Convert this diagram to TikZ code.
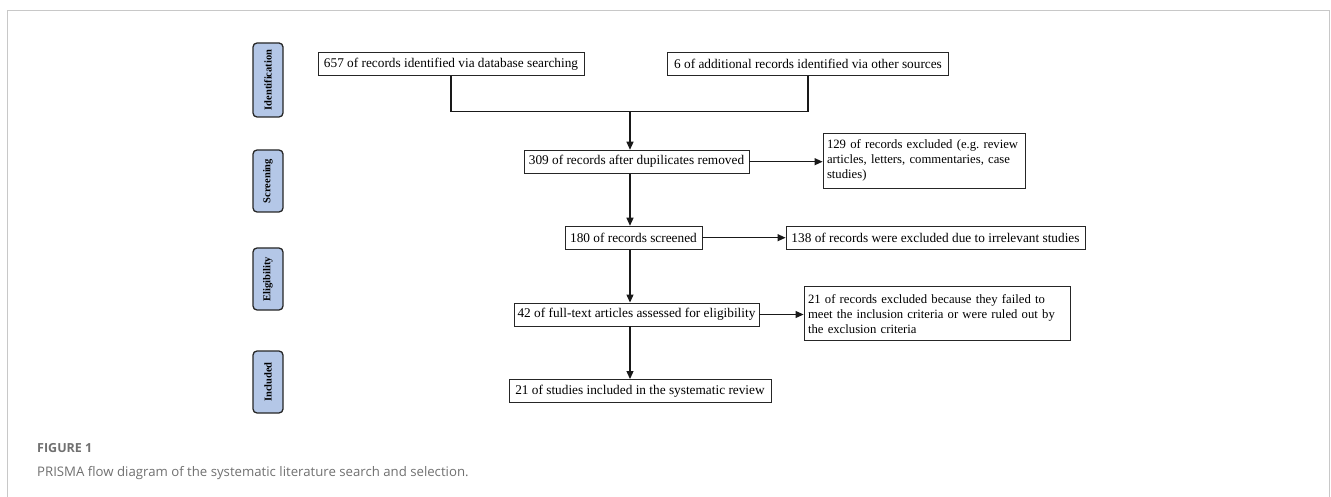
\documentclass[tikz,border=0pt]{standalone}
\usepackage{fontspec}
\setmainfont{Liberation Serif}
\newfontfamily\capfont{Open Sans}
\usetikzlibrary{arrows.meta}
\definecolor{stagefill}{HTML}{B4C7E7}
\definecolor{framegray}{HTML}{C8C8C8}
\definecolor{capgray}{HTML}{707070}
\frenchspacing
\tikzset{
  box/.style={draw=black!85, line width=0.9pt, fill=white, inner sep=3pt, minimum height=23pt,
    font=\fontsize{13.3}{15}\selectfont, anchor=center},
  multibox/.style={draw=black!85, line width=0.9pt, fill=white, align=left, inner sep=4pt,
    font=\fontsize{12.7}{15}\selectfont, anchor=center},
  stagebox/.style={draw=black!85, line width=1.3pt, fill=stagefill, rounded corners=4pt,
    minimum height=30pt, inner sep=0pt, font=\fontsize{10.5}{12}\selectfont\bfseries, rotate=90},
  link/.style={line width=1.1pt, draw=black!90},
  arr/.style={link, -{Triangle[length=8pt,width=7pt]}}
}
\begin{document}
\begin{tikzpicture}[x=1pt,y=-1pt]
\useasboundingbox (0,0) rectangle (1331,497);
% frame
\draw[framegray, line width=1pt] (7.5,497) -- (7.5,10.5) -- (1329.5,10.5) -- (1329.5,497);
% stage labels
\node[stagebox, minimum width=74pt] (s1) at (268,80) {Identification};
\node[stagebox, minimum width=62pt] (s2) at (268,181) {Screening};
\node[stagebox, minimum width=62pt] (s3) at (268,279) {Eligibility};
\node[stagebox, minimum width=62pt] (s4) at (268,382) {Included};
% boxes
\node[box, minimum width=266pt] (A) at (451,64.2) {657 of records identified via database searching};
\node[box, minimum width=281pt] (B) at (808,64.2) {6 of additional records identified via other sources};
\node[box, minimum width=225pt] (C) at (636.5,161.7) {309 of records after dupilicates removed};
\node[multibox, text width=194pt, minimum height=55pt] (D) at (924,160.5) {129 of records excluded (e.g. review\\articles, letters, commentaries, case\\studies)};
\node[box, minimum width=137pt] (E) at (633.5,237.7) {180 of records screened};
\node[box, minimum width=299pt] (F) at (935.5,237.7) {138 of records were excluded due to irrelevant studies};
\node[box, minimum width=245pt] (G) at (636.5,314.5) {42 of full-text articles assessed for eligibility};
\node[multibox, text width=258pt, minimum height=54pt] (H) at (937,313.7) {21 of records excluded because they failed to\\meet the inclusion criteria or were ruled out by\\the exclusion criteria};
\node[box, minimum width=262pt] (I) at (640,391) {21 of studies included in the systematic review};
% connectors
\coordinate (junc) at (630,111.3);
\draw[link] (A.south) |- (junc) -| (B.south);
\draw[arr] (junc) -- (junc |- C.north);
\draw[arr] (junc |- C.south) -- (junc |- E.north);
\draw[arr] (junc |- E.south) -- (junc |- G.north);
\draw[arr] (junc |- G.south) -- (junc |- I.north);
\draw[arr] (C.east) -- (C.east -| D.west);
\draw[arr] (E.east) -- (E.east -| F.west);
\draw[arr] (G.east) -- (G.east -| H.west);
% caption
\node[anchor=base west, inner sep=0pt, text=capgray, font=\capfont\bfseries\fontsize{12.5}{14}\selectfont] (cap1) at (37,452) {FIGURE 1};
\node[anchor=base west, inner sep=0pt, text=capgray, font=\capfont\fontsize{13.2}{16}\selectfont] (cap2) at (37,476) {PRISMA flow diagram of the systematic literature search and selection.};
\end{tikzpicture}
\end{document}
